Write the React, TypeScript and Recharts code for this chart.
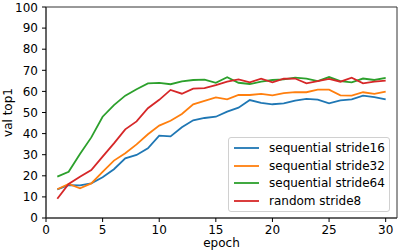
import React from 'react';
import { LineChart, Line, XAxis, YAxis, Legend, ReferenceArea } from 'recharts';

const epochs = [1, 2, 3, 4, 5, 6, 7, 8, 9, 10, 11, 12, 13, 14, 15, 16, 17, 18, 19, 20, 21, 22, 23, 24, 25, 26, 27, 28, 29, 30];
const seqStride16 = [13.6, 15.6, 15.5, 16.4, 19.3, 23.1, 28.3, 29.9, 33.0, 39.0, 38.7, 43.0, 46.3, 47.4, 48.0, 50.4, 52.3, 55.9, 54.6, 53.9, 54.3, 55.6, 56.5, 56.1, 54.3, 55.7, 56.2, 58.0, 57.3, 56.2];
const seqStride32 = [13.6, 16.1, 14.1, 16.4, 21.9, 27.2, 30.7, 34.9, 39.7, 43.8, 46.1, 49.3, 53.9, 55.5, 57.2, 56.2, 58.3, 58.3, 58.8, 58.1, 59.2, 59.7, 59.6, 60.8, 60.8, 58.1, 58.0, 59.6, 58.8, 59.9];
const seqStride64 = [19.6, 21.9, 30.3, 38.2, 48.0, 53.5, 58.0, 61.0, 63.8, 64.0, 63.4, 64.8, 65.4, 65.6, 64.1, 66.7, 64.1, 63.5, 64.6, 65.4, 65.7, 66.5, 66.1, 64.9, 66.8, 64.9, 64.3, 66.1, 65.4, 66.4];
const randStride8 = [9.1, 16.1, 19.6, 22.7, 29.1, 35.4, 42.0, 45.8, 52.0, 56.0, 60.7, 58.9, 61.3, 61.6, 63.0, 64.6, 65.7, 64.3, 66.0, 64.3, 66.0, 66.1, 63.8, 64.9, 65.9, 64.6, 66.5, 63.8, 64.6, 65.1];
const xTicks = [0, 5, 10, 15, 20, 25, 30];
const yTicks = [0, 10, 20, 30, 40, 50, 60, 70, 80, 90, 100];

const seriesNames = ['sequential stride16', 'sequential stride32', 'sequential stride64', 'random stride8'];
const seriesKeys = ['s16', 's32', 's64', 'r8'];
const seriesColors = ['#1f77b4', '#ff7f0e', '#2ca02c', '#d62728'];

const data = epochs.map((e, i) => ({
  epoch: e,
  s16: seqStride16[i],
  s32: seqStride32[i],
  s64: seqStride64[i],
  r8: randStride8[i],
}));

const FONT = '"DejaVu Sans", sans-serif';

const LegendBox = () => (
  <div
    style={{
      width: 162,
      height: 75,
      boxSizing: 'border-box',
      border: '1px solid #d0d0d0',
      borderRadius: 3,
      background: 'rgba(255,255,255,0.8)',
      position: 'relative',
      fontFamily: FONT,
      fontSize: 12,
      color: '#000',
    }}
  >
    {seriesNames.map((n, i) => (
      <div key={n} style={{ position: 'absolute', left: 5, top: 2 + i * 17.7, height: 16, display: 'flex', alignItems: 'center' }}>
        <svg width={25} height={4} style={{ display: 'block' }}>
          <line x1={0} y1={2} x2={25} y2={2} stroke={seriesColors[i]} strokeWidth={1.8} />
        </svg>
        <span style={{ marginLeft: 10, whiteSpace: 'nowrap', lineHeight: '16px' }}>{n}</span>
      </div>
    ))}
  </div>
);

const YLabel = (props: any) => {
  const vb = props.viewBox || { x: 0, y: 0, width: 0, height: 0 };
  const cx = vb.x + 7.5;
  const cy = vb.y + vb.height / 2;
  return (
    <text x={cx} y={cy} transform={`rotate(-90 ${cx} ${cy})`} textAnchor="middle" dominantBaseline="central" fontFamily={FONT} fontSize={12} fill="#000">
      val top1
    </text>
  );
};

export default function App() {
  return (
    <div style={{ width: 399, height: 252, position: 'relative' }}>
      <style>{'body{margin:0;background:#fff}'}</style>
      <LineChart width={399} height={252} data={data} margin={{ top: 7, right: 2, bottom: 0, left: 0 }}>
        <XAxis
          dataKey="epoch"
          type="number"
          domain={[0, 31]}
          ticks={xTicks}
          allowDataOverflow
          height={34}
          tickSize={4}
          tickMargin={3}
          stroke="#000"
          tick={{ fill: '#000', fontSize: 12, fontFamily: FONT }}
          axisLine={{ stroke: '#333', strokeWidth: 1 }}
          tickLine={{ stroke: '#000' }}
          label={{ value: 'epoch', position: 'insideBottom', offset: 5.5, fill: '#000', fontSize: 12, fontFamily: FONT }}
        />
        <YAxis
          type="number"
          domain={[0, 100]}
          ticks={yTicks}
          allowDataOverflow
          width={46}
          tickSize={4}
          tickMargin={4}
          stroke="#000"
          tick={{ fill: '#000', fontSize: 12, fontFamily: FONT }}
          axisLine={{ stroke: '#333', strokeWidth: 1 }}
          tickLine={{ stroke: '#000' }}
          label={{ content: YLabel }}
        />
        <ReferenceArea x1={0} x2={31} y1={0} y2={100} fill="none" stroke="#333" strokeWidth={1} fillOpacity={0} ifOverflow="visible" />
        {seriesKeys.map((k, i) => (
          <Line
            key={k}
            dataKey={k}
            name={seriesNames[i]}
            stroke={seriesColors[i]}
            strokeWidth={1.8}
            dot={false}
            isAnimationActive={false}
            type="linear"
          />
        ))}
        <Legend
          layout="vertical"
          align="center"
          verticalAlign="middle"
          content={<LegendBox />}
          wrapperStyle={{ position: 'absolute', left: 228, top: 137, width: 162, height: 75 }}
        />
      </LineChart>
    </div>
  );
}
